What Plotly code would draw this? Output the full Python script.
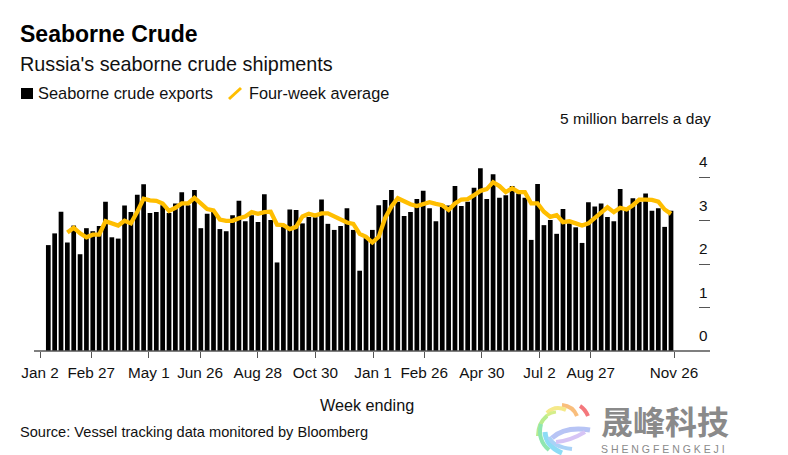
import plotly.graph_objects as go

W, H = 772, 447
PAGE_MARGIN = 8  # the browser's default body margin

# million barrels a day, weeks ending Jan 9 2021 .. Nov 26 2022
exports = [2.44, 2.71, 3.21, 2.50, 2.89, 2.23, 2.83, 2.76, 2.88, 3.44,
           2.62, 2.59, 3.35, 3.20, 3.60, 3.84, 3.18, 3.20, 3.36, 3.18,
           3.40, 3.66, 3.36, 3.71, 2.83, 3.16, 3.20, 2.81, 2.76, 3.13,
           3.46, 2.99, 3.13, 2.97, 3.61, 3.02, 2.04, 2.86, 3.26, 3.25,
           2.94, 3.09, 3.08, 3.49, 2.93, 2.79, 2.88, 3.29, 2.79, 1.85,
           2.60, 2.79, 3.36, 3.48, 3.71, 3.44, 3.11, 3.20, 3.50, 3.69,
           3.29, 2.99, 3.38, 3.35, 3.80, 3.34, 3.44, 3.76, 4.21, 3.50,
           4.07, 3.53, 3.59, 3.80, 3.63, 3.53, 2.56, 3.85, 2.90, 3.02,
           2.70, 3.27, 2.94, 2.85, 2.49, 3.43, 3.33, 3.40, 3.09, 2.99,
           3.73, 3.25, 3.52, 3.44, 3.63, 3.23, 3.29, 2.86, 3.23]

# starts at the fourth week
average = [None, None, None,
           2.73, 2.84, 2.71, 2.62, 2.68, 2.68, 2.99, 2.94, 2.89, 3.00, 2.94,
           3.21, 3.51, 3.47, 3.46, 3.40, 3.23, 3.30, 3.40, 3.40, 3.53, 3.40,
           3.27, 3.24, 3.03, 3.00, 3.00, 3.06, 3.10, 3.20, 3.16, 3.20, 3.21,
           2.91, 2.90, 2.81, 2.86, 3.10, 3.16, 3.12, 3.17, 3.17, 3.10, 3.02,
           2.96, 2.93, 2.70, 2.63, 2.50, 2.63, 3.06, 3.33, 3.52, 3.45, 3.38,
           3.34, 3.38, 3.43, 3.39, 3.36, 3.25, 3.40, 3.49, 3.50, 3.59, 3.69,
           3.73, 3.89, 3.80, 3.66, 3.75, 3.66, 3.66, 3.40, 3.40, 3.21, 3.09,
           3.13, 2.97, 2.99, 2.94, 2.89, 2.94, 3.05, 3.19, 3.31, 3.20, 3.30,
           3.26, 3.36, 3.49, 3.49, 3.48, 3.44, 3.26, 3.16]

tick_dates = ["2021-01-02", "2021-02-27", "2021-05-01", "2021-06-26",
              "2021-08-28", "2021-10-30", "2022-01-01", "2022-02-26",
              "2022-04-30", "2022-07-02", "2022-08-27", "2022-11-26"]
tick_labels = ["Jan 2", "Feb 27", "May 1", "Jun 26", "Aug 28", "Oct 30",
               "Jan 1", "Feb 26", "Apr 30", "Jul 2", "Aug 27", "Nov 26"]
y_ticks = [0, 1, 2, 3, 4]

FONT = "Liberation Sans"
TEXT = "#111111"
AXIS = "#555555"
GOLD = "#FFBE00"
weeks = list(range(len(exports)))


# page pixels to paper fractions
def px(x):
    return (x - PAGE_MARGIN) / W


def py(y):
    return 1 - (y - PAGE_MARGIN) / H


def label(text, x, y, size, anchor="left", color=TEXT, family=FONT):
    fig.add_annotation(text=text, x=px(x), y=py(y), xref="paper", yref="paper",
                       xanchor=anchor, yanchor="middle", showarrow=False,
                       font=dict(family=family, size=size, color=color))


def seg(x0, y0, x1, y1, color, width):
    fig.add_shape(type="line", x0=px(x0), y0=py(y0), x1=px(x1), y1=py(y1),
                  xref="paper", yref="paper",
                  line=dict(color=color, width=width))


def curve(color, p0, c, p1, width):
    path = (f"M {px(p0[0])} {py(p0[1])} Q {px(c[0])} {py(c[1])} "
            f"{px(p1[0])} {py(p1[1])}")
    fig.add_shape(type="path", path=path, xref="paper", yref="paper",
                  line=dict(color=color, width=width))


fig = go.Figure()
fig.add_trace(go.Bar(x=weeks, y=exports, marker_color="#000000",
                     marker_line_width=0, width=0.74, xaxis="x", yaxis="y"))
fig.add_trace(go.Scatter(x=weeks, y=average, mode="lines", xaxis="x", yaxis="y",
                         line=dict(color=GOLD, width=4.3)))
# invisible trace so the date axis with the ticks gets drawn
fig.add_trace(go.Scatter(x=tick_dates, y=[0] * len(tick_dates), mode="lines",
                         line=dict(width=0), xaxis="x2", yaxis="y",
                         hoverinfo="skip"))

fig.update_layout(
    width=W, height=H,
    margin=dict(l=0, r=0, t=0, b=0, autoexpand=False),
    paper_bgcolor="white", plot_bgcolor="white", showlegend=False,
    font=dict(family=FONT, color=TEXT),
    # bars sit on their own band scale, slightly tighter than the date ticks
    xaxis=dict(domain=[px(40), px(674)], range=[-1.306, 98.47], visible=False),
    xaxis2=dict(domain=[px(40), px(674)], overlaying="x", anchor="y",
                side="bottom", type="date", automargin=False,
                range=["2021-01-02", "2022-11-26"],
                tickvals=tick_dates, ticktext=tick_labels, ticks="outside",
                ticklen=6, tickwidth=1, tickcolor=AXIS, showgrid=False,
                showline=False, zeroline=False, tickangle=0,
                ticklabelstandoff=2,
                tickfont=dict(family=FONT, size=15.3, color=TEXT)),
    yaxis=dict(domain=[py(351), py(134)], range=[0, 5], showgrid=False,
               zeroline=False, tickvals=y_ticks + [5], showticklabels=False,
               ticks="inside", ticklen=11, tickwidth=1.2, tickcolor=AXIS,
               side="right", anchor="free", position=px(710), showline=False,
               automargin=False),
)

for v in y_ticks:
    fig.add_annotation(text=str(v), x=px(710), y=v, xref="paper", yref="y",
                       xanchor="right", yanchor="bottom", yshift=5,
                       showarrow=False,
                       font=dict(family=FONT, size=15.3, color=TEXT))
fig.add_annotation(text="5 million barrels a day", x=px(713), y=5, xref="paper",
                   yref="y", xanchor="right", yanchor="bottom", yshift=5,
                   showarrow=False, font=dict(family=FONT, size=15.5, color=TEXT))

seg(34, 351, 710, 351, AXIS, 1.5)

# header and hand-made legend, the line key is drawn slanted in the original
label("<b>Seaborne Crude</b>", 18, 34, 23, color="#000000")
label("Russia's seaborne crude shipments", 18, 64, 19.8)
fig.add_shape(type="rect", x0=px(21), x1=px(33), y0=py(99), y1=py(88),
              xref="paper", yref="paper", fillcolor="#000000", line_width=0)
label("Seaborne crude exports", 36, 93, 16.4)
seg(229, 99, 241, 88, GOLD, 3)
label("Four-week average", 247, 93, 16.3)
label("Week ending", 367, 405, 16.2, anchor="center")
label("Source: Vessel tracking data monitored by Bloomberg", 18, 432, 14.6)

# watermark, bottom right
for color, p0, c, p1, w in [
    ("#F4777C", (588, 416), (585, 409), (580, 406), 4),
    ("#F9BE7C", (577, 416), (573, 406), (562, 405), 4),
    ("#F5E98A", (566, 410), (555, 405), (547, 413), 4),
    ("#D5EE8A", (556, 412), (546, 413), (542, 422), 3),
    ("#B9EC8E", (547, 416), (538, 423), (538, 436), 4),
    ("#8FE6B0", (541, 424), (537, 440), (549, 450), 4),
    ("#8DDCF5", (545, 432), (546, 446), (562, 453), 5),
    ("#A9D2F7", (549, 437), (553, 447), (572, 449), 4),
    ("#B7C4F5", (552, 438), (565, 426), (590, 430), 5),
    ("#D6C4F5", (556, 442), (570, 441), (585, 432), 4),
]:
    curve(color, p0, c, p1, w)
label("<b>晟峰科技</b>", 665, 419.5, 32, anchor="center", color="#8A8A8A",
      family="Noto Sans CJK SC")
label("S H E N G F E N G K E J I", 663, 448.5, 10.5, anchor="center", color="#8A8A8A")

fig.write_html("out.html")
